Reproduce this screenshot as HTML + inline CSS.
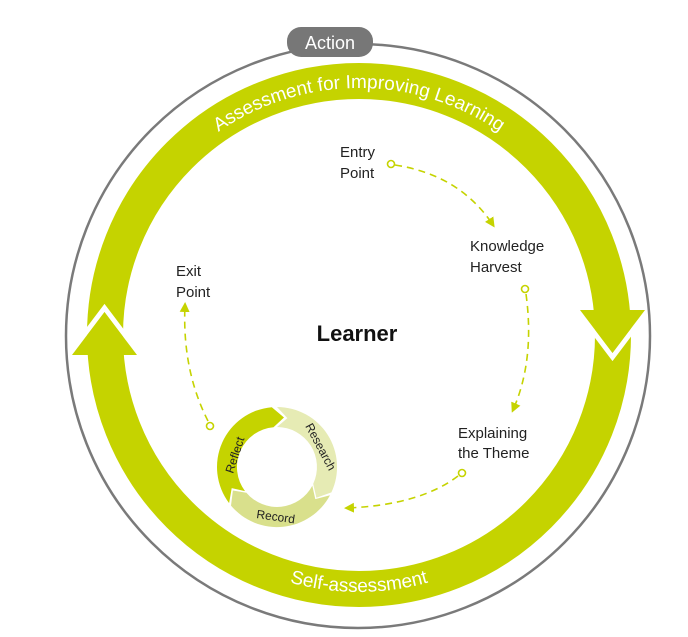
<!DOCTYPE html>
<html><head><meta charset="utf-8"><style>
html,body{margin:0;padding:0;background:#fff;}
svg{display:block;}
text{font-family:"Liberation Sans","DejaVu Sans",sans-serif;}
</style></head><body>
<svg width="688" height="637" viewBox="0 0 688 637" xmlns="http://www.w3.org/2000/svg">
<defs>
<path id="topArc" d="M 112 335 A 247 247 0 0 1 606 335"/>
<path id="botArc" d="M 102 335 A 257 257 0 0 0 616 335"/>
<marker id="ah" markerWidth="10" markerHeight="10" refX="7" refY="5" orient="auto" markerUnits="userSpaceOnUse"><path d="M0,0 L10,5 L0,10 Z" fill="#c5d300"/></marker>
</defs>
<circle cx="358" cy="336" r="292" fill="none" stroke="#7a7a7a" stroke-width="2.5"/>
<rect x="287" y="27" width="86" height="30" rx="14" fill="#777"/>
<text x="330" y="49" font-size="18" fill="#fff" text-anchor="middle">Action</text>
<circle cx="359" cy="335" r="254" fill="none" stroke="#c5d300" stroke-width="36"/>
<polyline points="72,351 104.5,308 137,351" fill="none" stroke="#fff" stroke-width="5"/>
<polygon points="72,355 137,355 104.5,312" fill="#c5d300"/>
<polyline points="580,314 612.5,357 645,314" fill="none" stroke="#fff" stroke-width="5"/>
<polygon points="580,310 645,310 612.5,353" fill="#c5d300"/>
<text font-size="19" fill="#fff"><textPath href="#topArc" startOffset="50%" text-anchor="middle">Assessment for Improving Learning</textPath></text>
<text font-size="19" fill="#fff"><textPath href="#botArc" startOffset="50%" text-anchor="middle">Self-assessment</textPath></text>
<text x="357" y="341" font-size="22" font-weight="bold" text-anchor="middle" fill="#111">Learner</text>
<g font-size="15" fill="#222">
<text x="340" y="157">Entry</text><text x="340" y="178">Point</text>
<text x="470" y="251">Knowledge</text><text x="470" y="272">Harvest</text>
<text x="458" y="438">Explaining</text><text x="458" y="458">the Theme</text>
<text x="176" y="276">Exit</text><text x="176" y="297">Point</text>
</g>
<g fill="none" stroke="#c5d300" stroke-width="1.6">
<circle cx="391" cy="164" r="3.5"/><circle cx="525" cy="289" r="3.5"/>
<circle cx="462" cy="473" r="3.5"/><circle cx="210" cy="426" r="3.5"/>
<g stroke-dasharray="7,5" marker-end="url(#ah)">
<path d="M395 165 Q460 175 493 225"/>
<path d="M526 294 Q535 360 513 410"/>
<path d="M458 476 Q420 505 347 508"/>
<path d="M208 421 Q182 370 185 305"/>
</g>
</g>
<path d="M229.1,503.1 A60 60 0 0 1 271.8,407.2 L284,417.5 L273.5,427.2 A40 40 0 0 0 245,491.1 L231.7,488.1 Z" fill="#c5d300"/>
<path d="M277,407 A60 60 0 0 1 331.4,492.4 L316.4,497.8 L313.2,483.9 A40 40 0 0 0 277,427 L287.4,418.1 Z" fill="#e6ebb4"/>
<path d="M330,495.2 A60 60 0 0 1 231,505.6 L232.9,490.5 L246.4,492.7 A40 40 0 0 0 312.3,485.8 L315.3,499.1 Z" fill="#d9e08c"/>
<g font-size="12" fill="#222">
<text transform="translate(233,474) rotate(-72)">Reflect</text>
<text transform="translate(305,426) rotate(62)">Research</text>
<text transform="translate(256,518) rotate(8)">Record</text>
</g>
</svg>
</body></html>
